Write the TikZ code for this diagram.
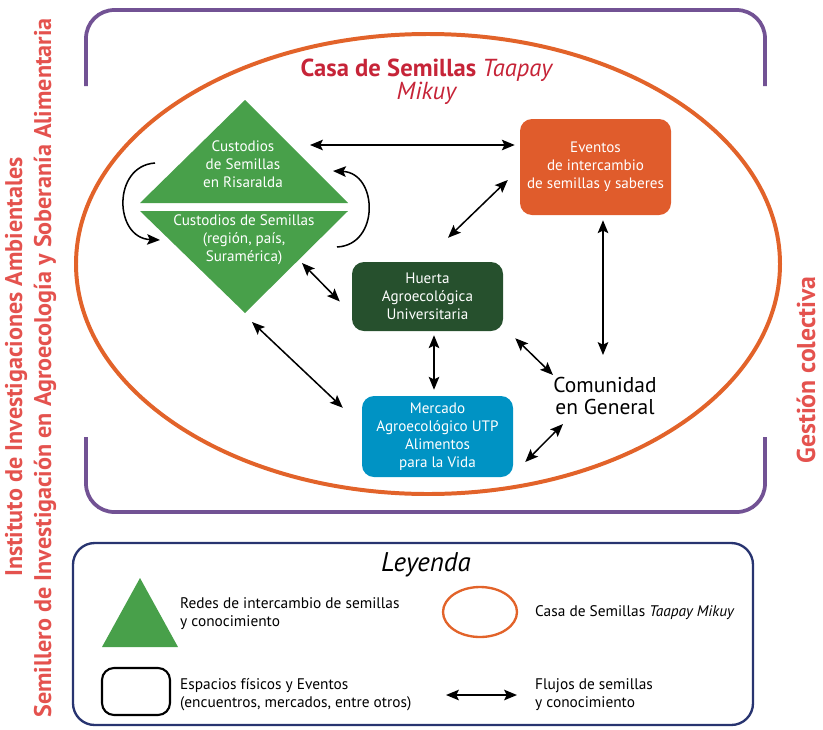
\documentclass[tikz,border=0pt]{standalone}
\usepackage{fontspec}
\setmainfont{PT Sans}
\usetikzlibrary{arrows.meta}
\definecolor{framepurple}{RGB}{114,82,148}
\definecolor{casaorange}{RGB}{226,99,42}
\definecolor{titlered}{RGB}{198,36,56}
\definecolor{sidered}{RGB}{228,82,78}
\definecolor{seedgreen}{RGB}{72,160,74}
\definecolor{huertagreen}{RGB}{38,80,45}
\definecolor{mercadoblue}{RGB}{0,147,196}
\definecolor{eventosorange}{RGB}{224,92,44}
\definecolor{legendnavy}{RGB}{40,52,112}

\begin{document}
\begin{tikzpicture}[x=0.03cm, y=-0.03cm, font=\fontsize{12.9}{15.4}\selectfont,
  houseframe/.style={draw=framepurple, line width=3.2pt, rounded corners=0.85cm},
  seedbox/.style={rounded corners=0.36cm, minimum width=4.53cm, inner sep=0pt,
    align=center, text=white},
  seedtext/.style={align=center, text=white, inner sep=0pt},
  flow/.style={{Stealth[length=11pt,width=9pt,inset=2.2pt]}-{Stealth[length=11pt,width=9pt,inset=2.2pt]},
    line width=1.3pt},
  loop/.style={-{Stealth[length=11pt,width=9pt,inset=2.2pt]}, line width=1.3pt},
  sidelabel/.style={rotate=90, text=sidered, font=\fontsize{20.6}{24}\selectfont\bfseries},
  legtext/.style={anchor=west, align=left, inner sep=0pt, font=\fontsize{13.1}{14.8}\selectfont}]
\useasboundingbox (0,0) rectangle (823,729);

% marco y casa de semillas
\draw[houseframe] (86,86) -- (86,10) -- (765,10) -- (765,86);
\draw[houseframe] (86,437) -- (86,512) -- (765,512) -- (765,437);
\draw[casaorange, line width=3.4pt] (428,264) ellipse [x radius=352, y radius=230];
\node[align=center, text=titlered, font=\fontsize{21}{20}\selectfont\bfseries] (titulo) at (427,82)
  {Casa de Semillas \textit{\mdseries Taapay}\\\textit{\mdseries Mikuy}};

% textos laterales
\node[sidelabel] (instituto) at (16,367) {Instituto de Investigaciones Ambientales};
\node[sidelabel] (semillero) at (45,368) {Semillero de Investigación en Agroecología y Soberanía Alimentaria};
\node[sidelabel, font=\fontsize{22}{26}\selectfont\bfseries] (gestion) at (806,370) {Gestión colectiva};

% custodios (rombo partido)
\fill[seedgreen] (245,100) -- (348,203) -- (140,203) -- cycle;
\fill[seedgreen] (140,211) -- (348,211) -- (245,313) -- cycle;
\node[seedtext] (risaralda) at (243,164) {Custodios\\de Semillas\\en Risaralda};
\node[seedtext] (region) at (244,240) {Custodios de Semillas\\(región, país,\\Suramérica)};

% espacios
\node[seedbox, fill=eventosorange, minimum height=2.88cm] (eventos) at (595.5,167)
  {Eventos\\de intercambio\\de semillas y saberes};
\node[seedbox, fill=huertagreen, minimum height=2.07cm] (huerta) at (427.5,296.5)
  {Huerta\\Agroecológica\\Universitaria};
\node[seedbox, fill=mercadoblue, minimum height=2.43cm] (mercado) at (437.5,436.5)
  {Mercado\\Agroecológico UTP\\Alimentos\\para la Vida};
\node[align=center, inner sep=0pt, font=\fontsize{18.3}{19}\selectfont] (comunidad) at (605,396)
  {Comunidad\\en General};

% extremos libres de las flechas
\coordinate (dTop) at (310,145);
\coordinate (lcA) at (155,163);
\coordinate (lcB) at (160,240);
\coordinate (rcA) at (337,247);
\coordinate (rcB) at (333,171);
\coordinate (dSide) at (302,263);
\coordinate (dLow) at (252,322);
\coordinate (cTop) at (603,355);
\coordinate (cLeft) at (553,375);
\coordinate (cLow) at (563,424);

% flujos
\draw[flow] (dTop) -- ([shift={(-5,-22)}]eventos.west);
\draw[loop] (lcA) .. controls (112,166) and (114,238) .. (lcB);
\draw[loop] (rcA) .. controls (380,245) and (378,173) .. (rcB);
\draw[flow] (dSide) -- ([shift={(-12,5)}]huerta.west);
\draw[flow] (dLow) -- ([shift={(-19,12)}]mercado.north west);
\draw[flow] ([shift={(20.5,-24)}]huerta.north) -- ([shift={(-12,13)}]eventos.west);
\draw[flow] ([shift={(6.5,4)}]huerta.south) -- ([shift={(-3.5,-6)}]mercado.north);
\draw[flow] ([shift={(7.5,5)}]eventos.south) -- (cTop);
\draw[flow] ([shift={(12,7)}]huerta.south east) -- (cLeft);
\draw[flow] ([shift={(12,25.5)}]mercado.east) -- (cLow);

% leyenda
\draw[legendnavy, line width=2pt, rounded corners=0.65cm] (73,543) rectangle (753,725);
\node[font=\fontsize{23}{26}\selectfont\itshape] (leyenda) at (426,565) {Leyenda};
\fill[seedgreen] (140,578) -- (178,647) -- (102,647) -- cycle;
\node[legtext] (redes) at (180,613.5) {Redes de intercambio de semillas\\y conocimiento};
\draw[casaorange, line width=2pt] (480,612) ellipse [x radius=37, y radius=25];
\node[legtext] (casa) at (535,613) {Casa de Semillas \textit{Taapay Mikuy}};
\draw[line width=1.8pt, rounded corners=0.36cm] (102,668) rectangle (170,715);
\node[legtext] (espacios) at (180,694.5) {Espacios físicos y Eventos\\(encuentros, mercados, entre otros)};
\coordinate (legA) at (446,695);
\coordinate (legB) at (517,695);
\draw[flow] (legA) -- (legB);
\node[legtext] (flujos) at (535,694.5) {Flujos de semillas\\y conocimiento};
\end{tikzpicture}
\end{document}
